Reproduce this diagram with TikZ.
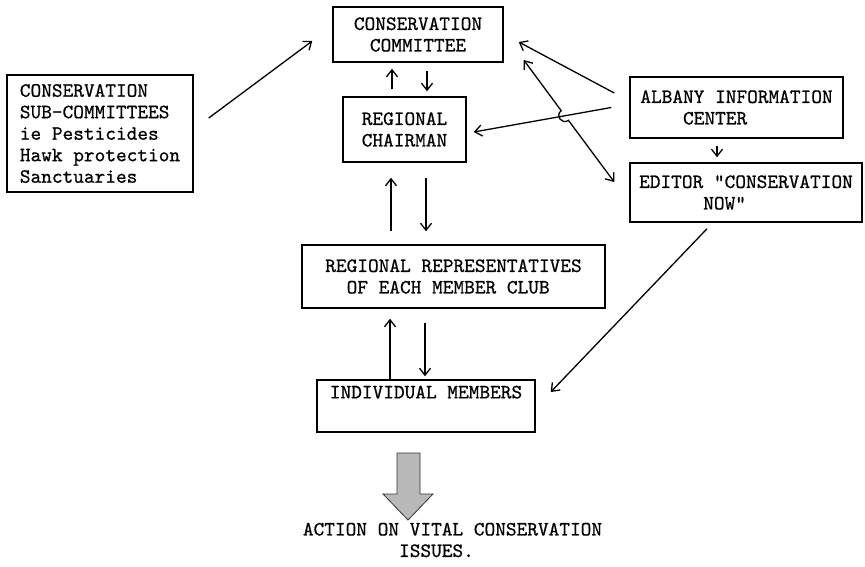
\documentclass[tikz,border=0pt]{standalone}
\usepackage{fontspec}
\usetikzlibrary{arrows.meta}
\newfontfamily\typewr{lmmono10-regular.otf}[FakeBold=0.7]
\newcommand{\typer}{\typewr\fontsize{20.35}{21.5}\selectfont}

\begin{document}
\begin{tikzpicture}[x=1pt, y=-1pt,
	>={Straight Barb[length=7pt, width=11pt]},
	box/.style={draw, line width=1.5pt, inner sep=0pt, font=\typer, align=left},
	link/.style={->, line width=1.3pt}]
	\useasboundingbox (0,0) rectangle (865,566);

	\node   (cc) at (418,34.5) [box, align=center, minimum width=170pt, minimum height=55pt] {CONSERVATION\\COMMITTEE};
	\node   (rc) at (404.5,129.5) [box, align=center, minimum width=123pt, minimum height=65pt] {REGIONAL\\CHAIRMAN};
	\node   (sub) at (100,133.5) [box, minimum width=186pt, minimum height=117pt] {CONSERVATION\\SUB-COMMITTEES\\ie Pesticides\\Hawk protection\\Sanctuaries};
	\node   (alb) at (736.5,107.5) [box, minimum width=213pt, minimum height=61pt] {ALBANY INFORMATION\\\hphantom{XXXX}CENTER};
	\node   (ed) at (746,192.5) [box, minimum width=232pt, minimum height=59pt] {EDITOR "CONSERVATION\\\hphantom{XXXXXX}NOW"};
	\node   (rr) at (453.5,276.5) [box, minimum width=303pt, minimum height=63pt] {REGIONAL REPRESENTATIVES\\\hphantom{XX}OF EACH MEMBER CLUB};
	\node   (im) at (426,406) [box, minimum width=218pt, minimum height=52pt] {INDIVIDUAL MEMBERS\\\strut};
	\node   (act) at (452.5,540) [font=\typer, align=left, inner sep=0pt] {ACTION ON VITAL CONSERVATION\\\hphantom{XXXXXXXXX}ISSUES.};

	\coordinate (hopa) at (561.2,110.7);
	\coordinate (hopb) at (568.4,120.3);

	\draw
	([xshift=-12.5pt]rc.north) edge[link, shorten <=7pt, shorten >=6pt] ([xshift=-12.5pt]rc.north |- cc.south)
	([xshift=22.5pt]rc.north |- cc.south) edge[link, shorten <=8pt, shorten >=5pt] ([xshift=22.5pt]rc.north)
	([xshift=-13.5pt]rc.south |- rr.north) edge[link, shorten <=13pt, shorten >=15pt] ([xshift=-13.5pt]rc.south)
	([xshift=21.5pt]rc.south) edge[link, shorten <=15pt, shorten >=13pt] ([xshift=21.5pt]rc.south |- rr.north)
	([xshift=-36pt]im.north) edge[link, shorten >=10pt] ([xshift=-36pt]im.north |- rr.south)
	([xshift=-1pt]im.north |- rr.south) edge[link, shorten <=14pt, shorten >=3pt] ([xshift=-1pt]im.north)
	([xshift=-19.5pt]alb.south) edge[link, shorten <=7pt, shorten >=5pt] ([xshift=-19.5pt]alb.south |- ed.north)
	([xshift=15pt, yshift=15.5pt]sub.east) edge[link] ([xshift=-20pt, yshift=-6.5pt]cc.west)
	([xshift=-15pt, yshift=14.5pt]alb.west) edge[link] ([xshift=15pt, yshift=-7.5pt]cc.east)
	([xshift=-18pt]alb.west) edge[link] ([xshift=7pt, yshift=-2.5pt]rc.east)
	([xshift=-39pt, yshift=-6pt]ed.south) edge[link] ([xshift=15pt, yshift=14pt]im.east)
	;
	\draw[link, <->] ([xshift=20pt, yshift=-25.5pt]cc.east) -- (hopa) .. controls +(-6.4,4.8) and +(-6.4,4.8) .. (hopb) -- ([xshift=-15pt, yshift=10.5pt]ed.west);

	\draw[fill=gray!55, draw=black!80, line width=0.8pt] (397,453) -- (420,453) -- (420,494) -- (433,494) -- (408,520) -- (383,494) -- (397,494) -- cycle;
\end{tikzpicture}
\end{document}
